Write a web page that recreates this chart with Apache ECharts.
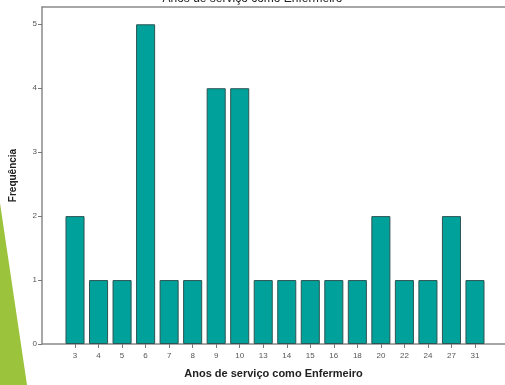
<!DOCTYPE html>
<html><head><meta charset="utf-8">
<script src="https://cdn.jsdelivr.net/npm/echarts@6/dist/echarts.min.js"></script>
<style>html,body{margin:0;padding:0;background:#fff}#c{width:505px;height:385px}</style>
</head><body><div id="c"></div>
<script>
const categories = ['3','4','5','6','7','8','9','10','13','14','15','16','18','20','22','24','27','31'];
const frequencies = [2,1,1,5,1,1,4,4,1,1,1,1,1,2,1,1,2,1];
const yTicks = [0,1,2,3,4,5];
const titleText = 'Anos de serviço como Enfermeiro';
const xName = 'Anos de serviço como Enfermeiro';
const yName = 'Frequência';

const chart = echarts.init(document.getElementById('c'), null, {renderer:'canvas'});
const FONT = 'Liberation Sans';
const YMAX = 5.27;
chart.setOption({
  animation:false,
  backgroundColor:'#fff',
  textStyle:{fontFamily:FONT},
  title:{text:titleText,left:'center',top:-12,textStyle:{fontSize:12,fontWeight:'normal',color:'#222',fontFamily:FONT}},
  graphic:[{type:'polygon',z:-1,shape:{points:[[0,203],[27,385],[0,385]]},style:{fill:'#9cc33c'}}],
  grid:[
    {left:40,right:0,top:7,bottom:41},
    {left:63.25,right:18.25,top:7,bottom:41}
  ],
  xAxis:[
    {gridIndex:0,type:'value',min:0,max:1,position:'bottom',
     axisLine:{show:true,lineStyle:{color:'#8a8a8a',width:1.5}},axisTick:{show:false},axisLabel:{show:false},splitLine:{show:false},
     name:xName,nameLocation:'middle',nameGap:24,nameTextStyle:{fontSize:11,fontWeight:'bold',color:'#222',fontFamily:FONT}},
    {gridIndex:0,type:'value',min:0,max:1,position:'top',
     axisLine:{show:true,lineStyle:{color:'#8a8a8a',width:1.5}},axisTick:{show:false},axisLabel:{show:false},splitLine:{show:false}},
    {gridIndex:1,type:'category',data:categories,position:'bottom',
     axisLine:{show:false},axisTick:{show:true,alignWithLabel:true,length:4,lineStyle:{color:'#777'}},
     axisLabel:{fontSize:8,color:'#555',margin:8,interval:0,fontFamily:FONT}}
  ],
  yAxis:[
    {gridIndex:0,type:'value',min:0,max:YMAX,interval:1,
     axisLine:{show:true,lineStyle:{color:'#8a8a8a',width:1.5}},
     axisTick:{show:true,length:4,lineStyle:{color:'#777'},customValues:yTicks},
     axisLabel:{fontSize:8,color:'#555',margin:5,customValues:yTicks,fontFamily:FONT},
     splitLine:{show:false},
     name:yName,nameLocation:'middle',nameRotate:90,nameGap:24,nameTextStyle:{fontSize:10,fontWeight:'bold',color:'#222',fontFamily:FONT}},
    {gridIndex:1,type:'value',min:0,max:YMAX,show:false}
  ],
  series:[{
    type:'bar',xAxisIndex:2,yAxisIndex:1,data:frequencies,barCategoryGap:'19%',
    itemStyle:{color:'#00a19b',borderColor:'#2d5553',borderWidth:1}
  }]
});
</script></body></html>
